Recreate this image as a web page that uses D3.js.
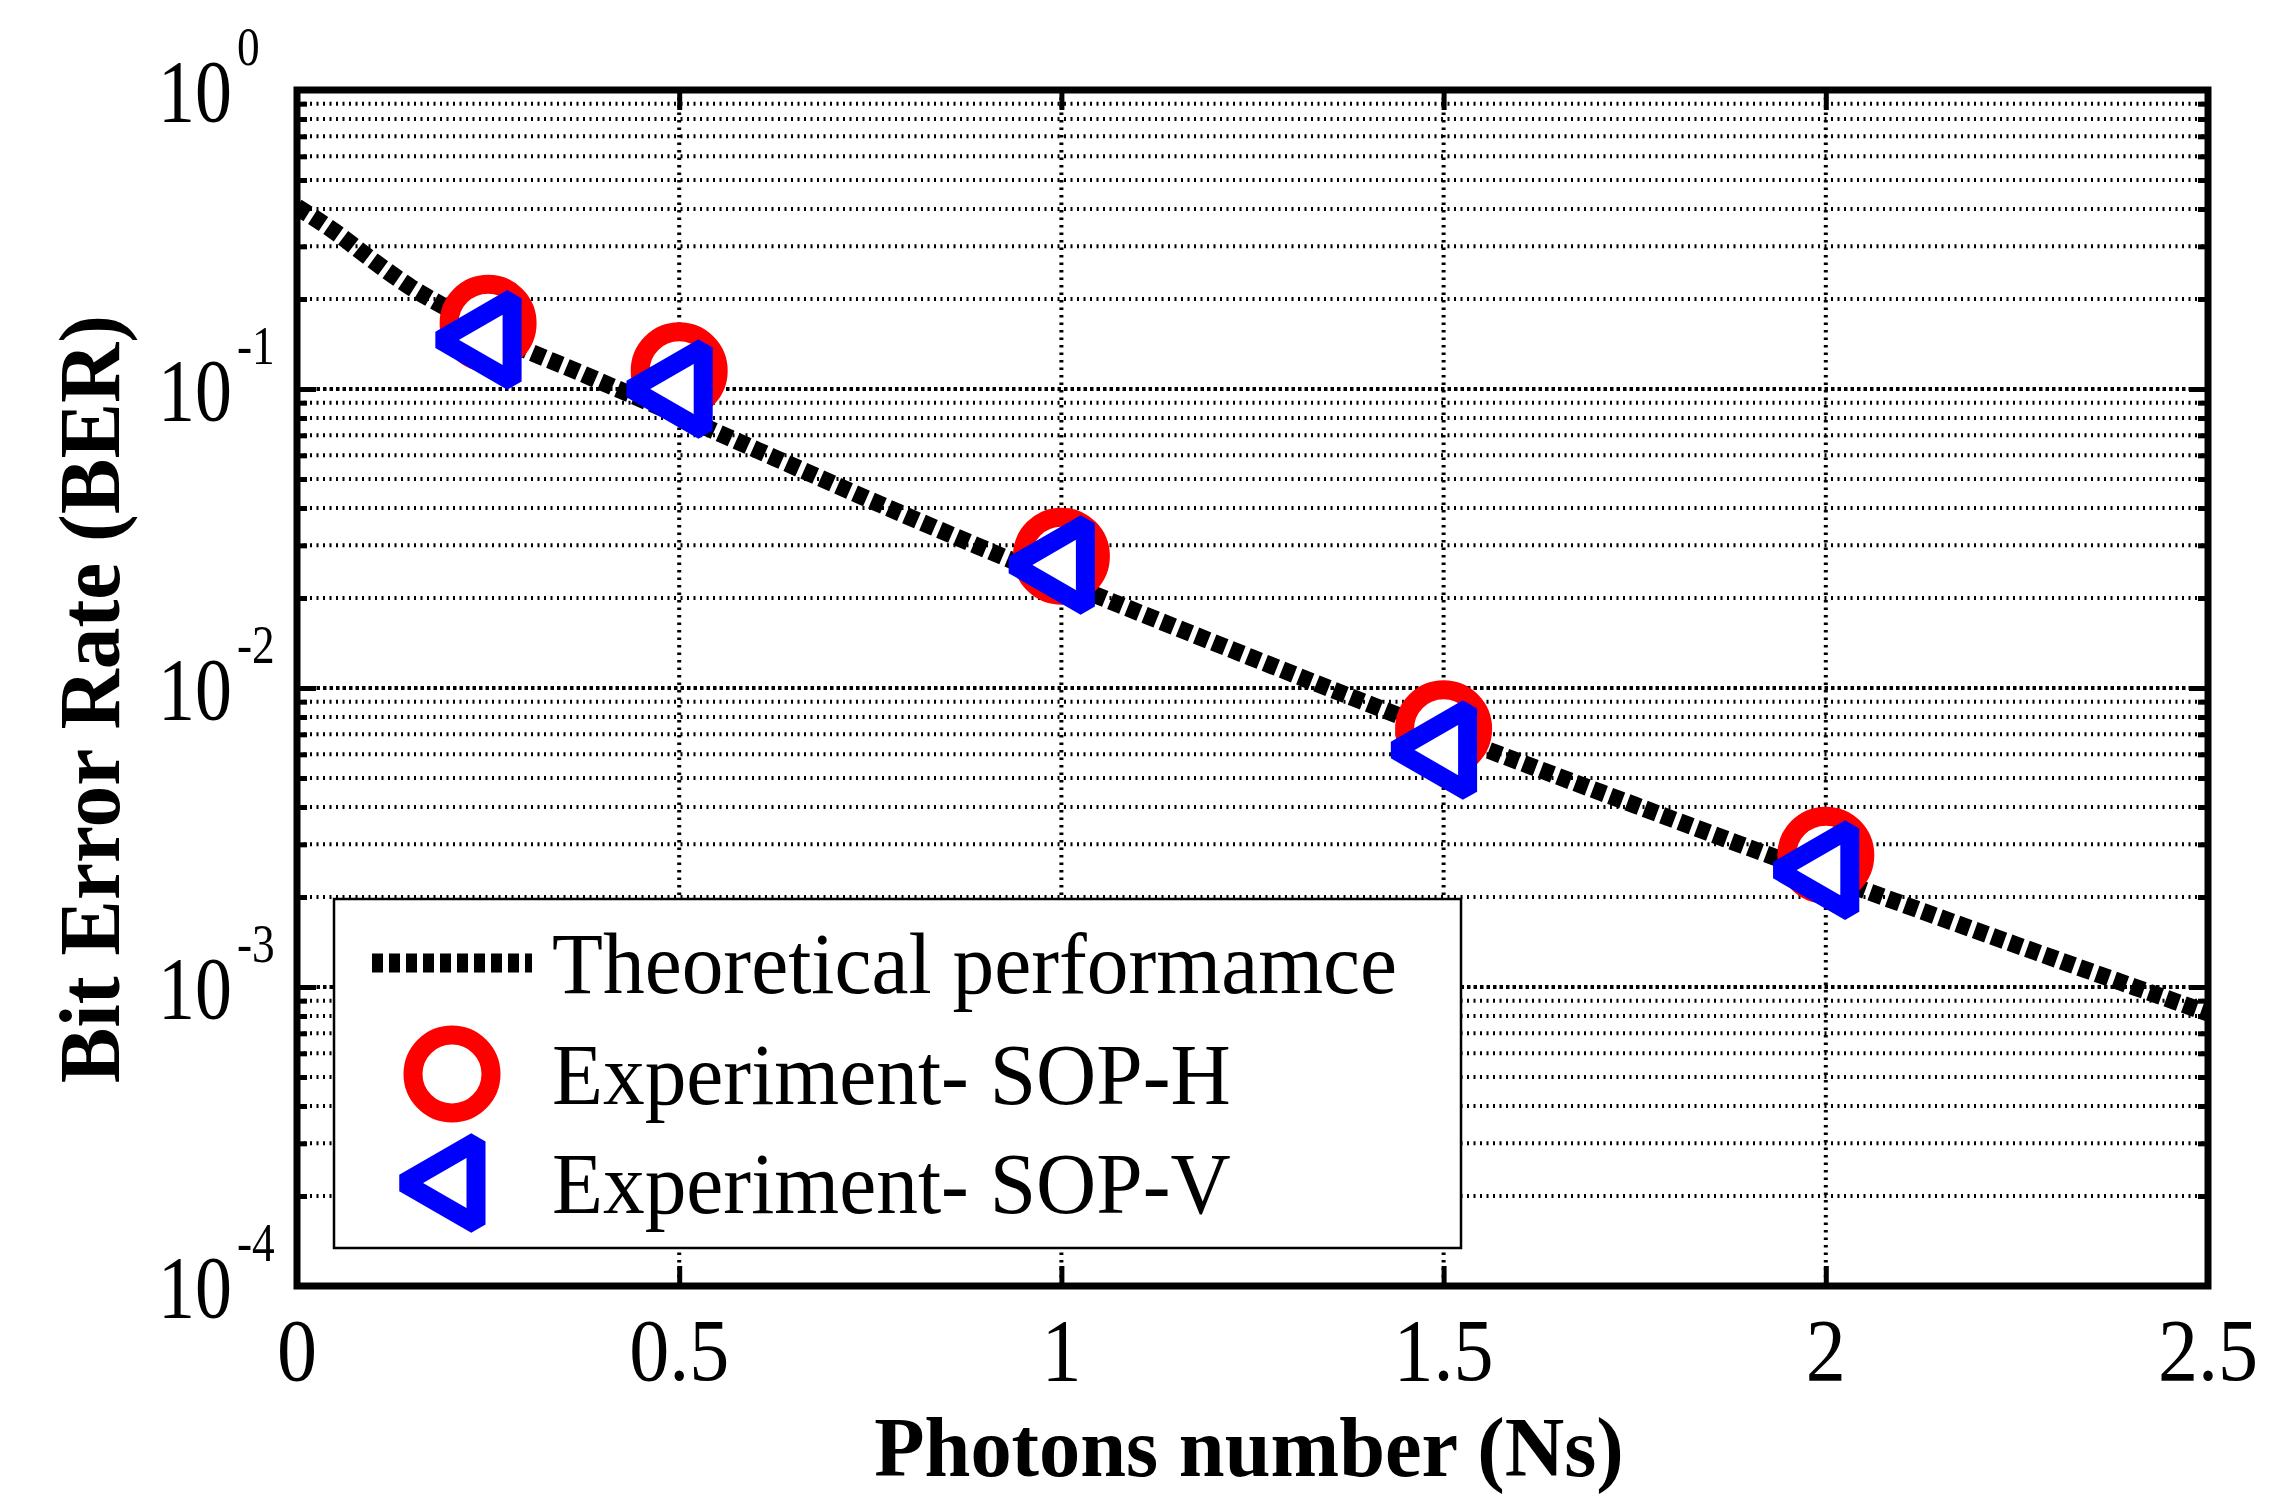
<!DOCTYPE html>
<html>
<head>
<meta charset="utf-8">
<script src="https://cdn.jsdelivr.net/npm/d3@7"></script>
<style>
  html, body { margin: 0; padding: 0; background: #fff; }
  svg { display: block; }
  text { font-family: "Liberation Serif", "Times New Roman", serif; fill: #000; }
</style>
</head>
<body>
<svg id="chart" width="2296" height="1494"></svg>
<script>
// ---- data ----
const theoryNs  = [0, 0.05, 0.1, 0.15, 0.2, 0.25, 0.375, 0.5, 0.625, 0.75, 1.0, 1.25, 1.5, 1.75, 2.0, 2.25, 2.5];
const theoryBER = [0.406, 0.335, 0.268, 0.218, 0.184, 0.155, 0.112, 0.0815, 0.0588, 0.0425, 0.0228, 0.0126, 0.00707, 0.00406, 0.00235, 0.00138, 0.000818];
const expNs     = [0.25, 0.5, 1.0, 1.5, 2.0];
const sopH      = [0.166, 0.115, 0.0276, 0.0073, 0.00276];
const sopV      = [0.146, 0.100, 0.0258, 0.0062, 0.00246];
const xTicks    = [0, 0.5, 1, 1.5, 2, 2.5];
const xTickLabels = ["0", "0.5", "1", "1.5", "2", "2.5"];
const yMajor    = [1e-4, 1e-3, 1e-2, 1e-1, 1e0];
const yExponents = ["-4", "-3", "-2", "-1", "0"];
const legendLabels = ["Theoretical performamce", "Experiment- SOP-H", "Experiment- SOP-V"];
const xTitle = "Photons number (Ns)";
const yTitle = "Bit Error Rate (BER)";

// ---- layout ----
const L = 297, R = 2208, T = 90, B = 1286;
const svg = d3.select("#chart");
svg.append("rect").attr("width", 2296).attr("height", 1494).attr("fill", "#fff");

const x = d3.scaleLinear().domain([0, 2.5]).range([L, R]);
const y = d3.scaleLog().domain([1e-4, 1]).range([B, T]);

const yMinor = [];
for (let e = -4; e < 0; e++) for (let m = 2; m <= 9; m++) yMinor.push(m * Math.pow(10, e));

svg.append("defs").append("clipPath").attr("id", "plotclip")
  .append("rect").attr("x", L).attr("y", T).attr("width", R - L).attr("height", B - T);

// ---- grid ----
const grid = svg.append("g");
grid.selectAll("line.minor").data(yMinor).join("line")
  .attr("x1", L).attr("x2", R).attr("y1", d => y(d)).attr("y2", d => y(d))
  .attr("stroke", "#000").attr("stroke-width", 4).attr("stroke-dasharray", "2,4.5");
grid.selectAll("line.major").data(yMajor.slice(1, 4)).join("line")
  .attr("x1", L).attr("x2", R).attr("y1", d => y(d)).attr("y2", d => y(d))
  .attr("stroke", "#000").attr("stroke-width", 4).attr("stroke-dasharray", "3.5,3");
grid.selectAll("line.vx").data(xTicks.slice(1, 5)).join("line")
  .attr("x1", d => x(d)).attr("x2", d => x(d)).attr("y1", T).attr("y2", B)
  .attr("stroke", "#000").attr("stroke-width", 4).attr("stroke-dasharray", "2.5,5");

// ---- axes ticks (inward) ----
function styleAxis(g) {
  g.select(".domain").remove();
  g.selectAll(".tick line").attr("stroke", "#000").attr("stroke-width", 5);
  g.selectAll(".tick text").remove();
}
svg.append("g").attr("transform", `translate(0,${B})`)
  .call(d3.axisBottom(x).tickValues(xTicks).tickSizeInner(-20).tickSizeOuter(0).tickFormat("")).call(styleAxis);
svg.append("g").attr("transform", `translate(0,${T})`)
  .call(d3.axisTop(x).tickValues(xTicks).tickSizeInner(-20).tickSizeOuter(0).tickFormat("")).call(styleAxis);
svg.append("g").attr("transform", `translate(${L},0)`)
  .call(d3.axisLeft(y).tickValues(yMajor).tickSizeInner(-19).tickSizeOuter(0).tickFormat("")).call(styleAxis);
svg.append("g").attr("transform", `translate(${L},0)`)
  .call(d3.axisLeft(y).tickValues(yMinor).tickSizeInner(-10).tickSizeOuter(0).tickFormat("")).call(styleAxis);
svg.append("g").attr("transform", `translate(${R},0)`)
  .call(d3.axisRight(y).tickValues(yMajor).tickSizeInner(-19).tickSizeOuter(0).tickFormat("")).call(styleAxis);
svg.append("g").attr("transform", `translate(${R},0)`)
  .call(d3.axisRight(y).tickValues(yMinor).tickSizeInner(-10).tickSizeOuter(0).tickFormat("")).call(styleAxis);

// ---- theoretical curve ----
const pts = theoryNs.map((n, i) => [n, theoryBER[i]]);
const lineGen = d3.line().x(d => x(d[0])).y(d => y(d[1])).curve(d3.curveMonotoneX);
svg.append("path").datum(pts).attr("clip-path", "url(#plotclip)")
  .attr("d", lineGen).attr("fill", "none").attr("stroke", "#000")
  .attr("stroke-width", 17).attr("stroke-dasharray", "13,5.5");

// ---- markers ----
const triPath = (cx, cy, Rr) =>
  `M${cx - Rr},${cy}L${cx + Rr / 2},${cy - Rr * Math.sqrt(3) / 2}L${cx + Rr / 2},${cy + Rr * Math.sqrt(3) / 2}Z`;

svg.append("g").selectAll("circle").data(expNs.map((n, i) => [n, sopH[i]])).join("circle")
  .attr("cx", d => x(d[0])).attr("cy", d => y(d[1])).attr("r", 39)
  .attr("fill", "#fff").attr("stroke", "#ff0000").attr("stroke-width", 19);
svg.append("g").selectAll("path").data(expNs.map((n, i) => [n, sopV[i]])).join("path")
  .attr("d", d => triPath(x(d[0]), y(d[1]), 48))
  .attr("fill", "#fff").attr("stroke", "#0000ff").attr("stroke-width", 19)
  .attr("stroke-linejoin", "bevel");

// ---- frame ----
svg.append("rect").attr("x", L).attr("y", T).attr("width", R - L).attr("height", B - T)
  .attr("fill", "none").attr("stroke", "#000").attr("stroke-width", 7);

// ---- tick labels ----
const xl = svg.append("g");
xTicks.forEach((v, i) => {
  xl.append("g").attr("transform", `translate(${x(v)},1380) scale(0.91,1)`)
    .append("text").attr("text-anchor", "middle").attr("font-size", 88).text(xTickLabels[i]);
});
const yl = svg.append("g");
yMajor.forEach((v, i) => {
  const t = yl.append("g").attr("transform", `translate(158,${y(v) + 31}) scale(0.84,1)`)
    .append("text").attr("font-size", 88);
  t.append("tspan").text("10");
  t.append("tspan").attr("dx", 6).attr("dy", -56).attr("font-size", 54).text(yExponents[i]);
});

// ---- axis titles ----
svg.append("g").attr("transform", `translate(1249,1476) scale(0.97,1)`)
  .append("text").attr("text-anchor", "middle").attr("font-size", 85).attr("font-weight", "bold").text(xTitle);
svg.append("g").attr("transform", `translate(119,699) rotate(-90) scale(0.97,1)`)
  .append("text").attr("text-anchor", "middle").attr("font-size", 86).attr("font-weight", "bold").text(yTitle);

// ---- legend ----
const lg = svg.append("g");
lg.append("rect").attr("x", 334).attr("y", 899).attr("width", 1127).attr("height", 349)
  .attr("fill", "#fff").attr("stroke", "#000").attr("stroke-width", 2.5);
const rowY = [963, 1074, 1183];
lg.append("line").attr("x1", 372).attr("x2", 532).attr("y1", rowY[0]).attr("y2", rowY[0])
  .attr("stroke", "#000").attr("stroke-width", 19).attr("stroke-dasharray", "11,6");
lg.append("circle").attr("cx", 452).attr("cy", rowY[1]).attr("r", 39)
  .attr("fill", "#fff").attr("stroke", "#ff0000").attr("stroke-width", 19);
lg.append("path").attr("d", triPath(452, rowY[2], 48))
  .attr("fill", "#fff").attr("stroke", "#0000ff").attr("stroke-width", 19).attr("stroke-linejoin", "bevel");
legendLabels.forEach((s, i) => {
  lg.append("g").attr("transform", `translate(552,${rowY[i] + 30}) scale(0.97,1)`)
    .append("text").attr("font-size", 86).text(s);
});
</script>
</body>
</html>
